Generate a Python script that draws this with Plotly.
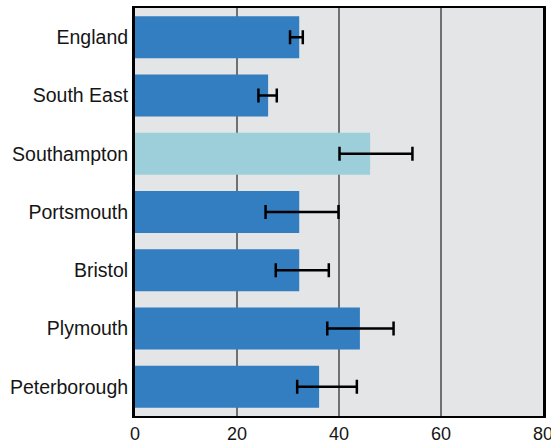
import plotly.graph_objects as go

# Areas and their estimated values with lower/upper confidence limits
areas = ["England", "South East", "Southampton", "Portsmouth", "Bristol", "Plymouth", "Peterborough"]
values = [32.2, 26.1, 46.1, 32.2, 32.2, 44.1, 36.1]
lower = [30.4, 24.2, 40.1, 25.6, 27.6, 37.7, 31.8]
upper = [32.9, 27.8, 54.4, 39.9, 38.0, 50.7, 43.5]
x_ticks = [0, 20, 40, 60, 80]

highlight = "Southampton"
colors = ["#9dcfda" if a == highlight else "#337dc1" for a in areas]
err_plus = [u - v for u, v in zip(upper, values)]
err_minus = [v - l for v, l in zip(values, lower)]

fig = go.Figure(
    go.Bar(
        y=areas,
        x=values,
        orientation="h",
        marker=dict(color=colors, line=dict(width=0)),
        width=0.72,
        error_x=dict(
            type="data",
            symmetric=False,
            array=err_plus,
            arrayminus=err_minus,
            color="black",
            thickness=2.5,
            width=7,
        ),
    )
)

family = "Liberation Sans, Arial, Helvetica, sans-serif"
yfont = dict(family=family, size=19.5, color="#151515")
xfont = dict(family=family, size=18, color="#151515")

fig.update_layout(
    width=551,
    height=441,
    margin=dict(l=135, r=8, t=8, b=25),
    paper_bgcolor="white",
    plot_bgcolor="#e4e5e7",
    showlegend=False,
    font=yfont,
    bargap=0.28,
)
fig.update_xaxes(
    range=[0, 80],
    tickvals=x_ticks,
    ticktext=[str(t) for t in x_ticks],
    showgrid=True,
    gridcolor="#707070",
    gridwidth=1.5,
    zeroline=False,
    showline=True,
    linecolor="black",
    linewidth=2,
    mirror=True,
    ticks="",
    ticklabelstandoff=0,
    ticklabeloverflow="allow",
    tickfont=xfont,
    automargin=False,
)
fig.update_yaxes(
    categoryorder="array",
    categoryarray=areas,
    autorange="reversed",
    showgrid=False,
    zeroline=False,
    showline=True,
    linecolor="black",
    linewidth=3,
    mirror=True,
    ticks="",
    ticklabelstandoff=0,
    tickfont=yfont,
    automargin=False,
)

fig.write_html("out.html")
